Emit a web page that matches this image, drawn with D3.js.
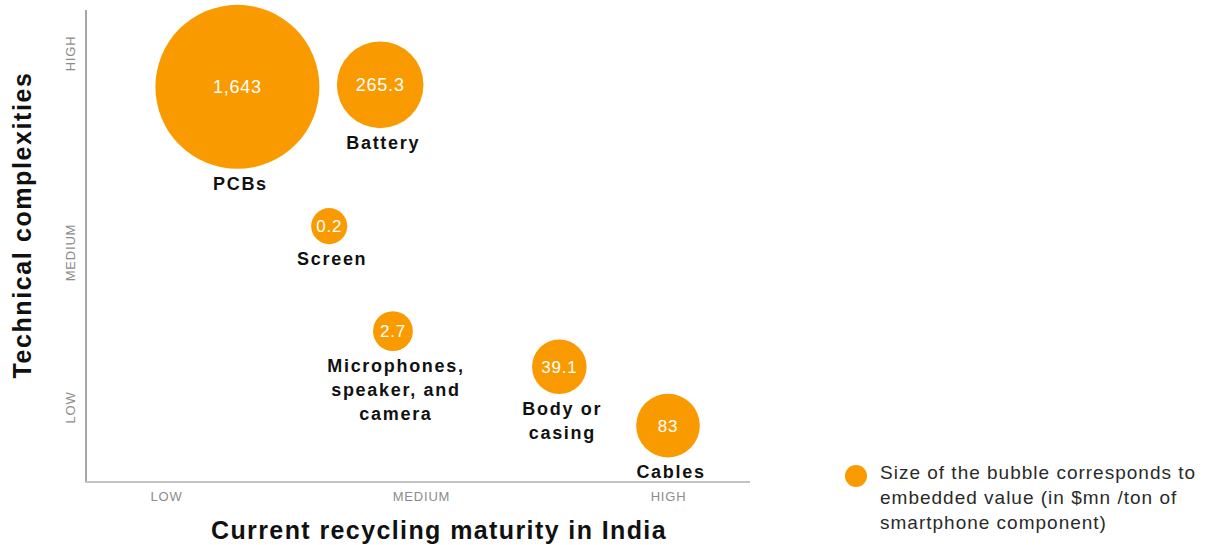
<!DOCTYPE html>
<html>
<head>
<meta charset="utf-8">
<script src="https://cdn.jsdelivr.net/npm/d3@7"></script>
<style>
  body { margin: 0; background: #fff; }
  svg { display: block; }
</style>
</head>
<body>
<div id="wrapper"></div>
<script>
// component data
const components = ["PCBs", "Battery", "Screen", "Microphones, speaker, and camera", "Body or casing", "Cables"]
const labelLines = [["PCBs"], ["Battery"], ["Screen"], ["Microphones,", "speaker, and", "camera"], ["Body or", "casing"], ["Cables"]]
const valueText = ["1,643", "265.3", "0.2", "2.7", "39.1", "83"]
const embeddedValue = [1643, 265.3, 0.2, 2.7, 39.1, 83]
// 1 = low, 2 = medium, 3 = high
const recyclingMaturity = [1.28, 1.84, 1.64, 1.89, 2.56, 3.0]
const technicalComplexity = [2.83, 2.84, 2.13, 1.49, 1.26, 0.88]
const levelLabels = ["LOW", "MEDIUM", "HIGH"]
const levels = [1, 2, 3]
const legendLines = ["Size of the bubble corresponds to", "embedded value (in $mn /ton of", "smartphone component)"]

const orange = "#F99B00"

function drawBubbles() {
  const dataset = components.map((c, i) => ({
    name: c,
    lines: labelLines[i],
    text: valueText[i],
    value: embeddedValue[i],
    x: recyclingMaturity[i],
    y: technicalComplexity[i],
  }))

  const dimensions = {
    width: 1210,
    height: 545,
    plot: { left: 86, right: 750, top: 10, bottom: 482 },
  }

  const svg = d3.select("#wrapper").append("svg")
    .attr("width", dimensions.width)
    .attr("height", dimensions.height)
    .style("font-family", "'Liberation Sans', Arial, sans-serif")

  // uneven spacing in the original, so piecewise scales
  const xScale = d3.scaleLinear().domain(levels).range([166, 421, 668])
  const yScale = d3.scaleLinear().domain(levels).range([407, 252, 53])
  const rScale = d3.scaleSqrt().domain([0, 1643]).range([17.3, 82])

  // axis lines
  svg.append("line")
    .attr("x1", dimensions.plot.left).attr("x2", dimensions.plot.left)
    .attr("y1", dimensions.plot.top).attr("y2", dimensions.plot.bottom)
    .attr("stroke", "#a6a6a6").attr("stroke-width", 2)
  svg.append("line")
    .attr("x1", dimensions.plot.left - 1).attr("x2", dimensions.plot.right)
    .attr("y1", dimensions.plot.bottom).attr("y2", dimensions.plot.bottom)
    .attr("stroke", "#c3c3c3").attr("stroke-width", 2)

  // tick labels via axis generators
  const xAxis = svg.append("g")
    .attr("transform", `translate(0, ${dimensions.plot.bottom})`)
    .call(d3.axisBottom(xScale).tickValues(levels).tickSize(0).tickPadding(10)
      .tickFormat((d, i) => levelLabels[i]))
  xAxis.select(".domain").remove()
  xAxis.selectAll("text")
    .attr("fill", "#8c8c8c")
    .style("font-size", "13px")
    .style("letter-spacing", "0.8px")
    .style("font-family", "'Liberation Sans', Arial, sans-serif")

  const yAxis = svg.append("g")
    .attr("transform", `translate(${dimensions.plot.left}, 0)`)
    .call(d3.axisLeft(yScale).tickValues(levels).tickSize(0).tickPadding(10)
      .tickFormat((d, i) => levelLabels[i]))
  yAxis.select(".domain").remove()
  yAxis.selectAll("text")
    .attr("fill", "#8c8c8c")
    .attr("x", null).attr("dy", null)
    .attr("text-anchor", "middle")
    .attr("transform", "translate(-11, 0) rotate(-90)")
    .style("font-size", "13px")
    .style("letter-spacing", "0.8px")
    .style("font-family", "'Liberation Sans', Arial, sans-serif")

  // axis titles
  svg.append("text")
    .attr("x", 439)
    .attr("y", 539)
    .attr("text-anchor", "middle")
    .style("font-size", "25px")
    .style("font-weight", "bold")
    .style("letter-spacing", "1.4px")
    .attr("fill", "#111")
    .text("Current recycling maturity in India")

  svg.append("text")
    .attr("transform", "translate(31, 225) rotate(-90)")
    .attr("text-anchor", "middle")
    .style("font-size", "25px")
    .style("font-weight", "bold")
    .style("letter-spacing", "1.6px")
    .attr("fill", "#111")
    .text("Technical complexities")

  // bubbles
  const nodes = svg.append("g").selectAll("g")
    .data(dataset)
    .join("g")
      .attr("transform", d => `translate(${xScale(d.x)}, ${yScale(d.y)})`)

  nodes.append("circle")
    .attr("r", d => rScale(d.value))
    .attr("fill", orange)

  nodes.append("text")
    .attr("text-anchor", "middle")
    .attr("dy", "0.35em")
    .attr("fill", "#fff")
    .style("font-size", d => d.value > 200 ? "18px" : "17px")
    .style("letter-spacing", "0.8px")
    .text(d => d.text)

  nodes.append("text")
    .attr("text-anchor", "middle")
    .attr("fill", "#111")
    .style("font-size", "18px")
    .style("font-weight", "bold")
    .style("letter-spacing", "1.7px")
    .selectAll("tspan")
    .data(d => d.lines.map((l, i) => ({ l, i, r: rScale(d.value) })))
    .join("tspan")
      .attr("x", 3)
      .attr("y", t => t.r + 21 + t.i * 24)
      .text(t => t.l)

  // legend
  const legend = svg.append("g").attr("transform", "translate(856, 476)")
  legend.append("circle").attr("r", 11).attr("fill", orange)
  legend.selectAll("text.legend-line")
    .data(legendLines)
    .join("text")
      .attr("class", "legend-line")
      .attr("x", 24)
      .attr("y", (d, i) => 3 + i * 25)
      .attr("fill", "#2a2a2a")
      .style("font-family", "'Liberation Sans', Arial, sans-serif")
      .style("font-size", "19px")
      .style("letter-spacing", "1px")
      .text(d => d)
}

drawBubbles()
</script>
</body>
</html>
